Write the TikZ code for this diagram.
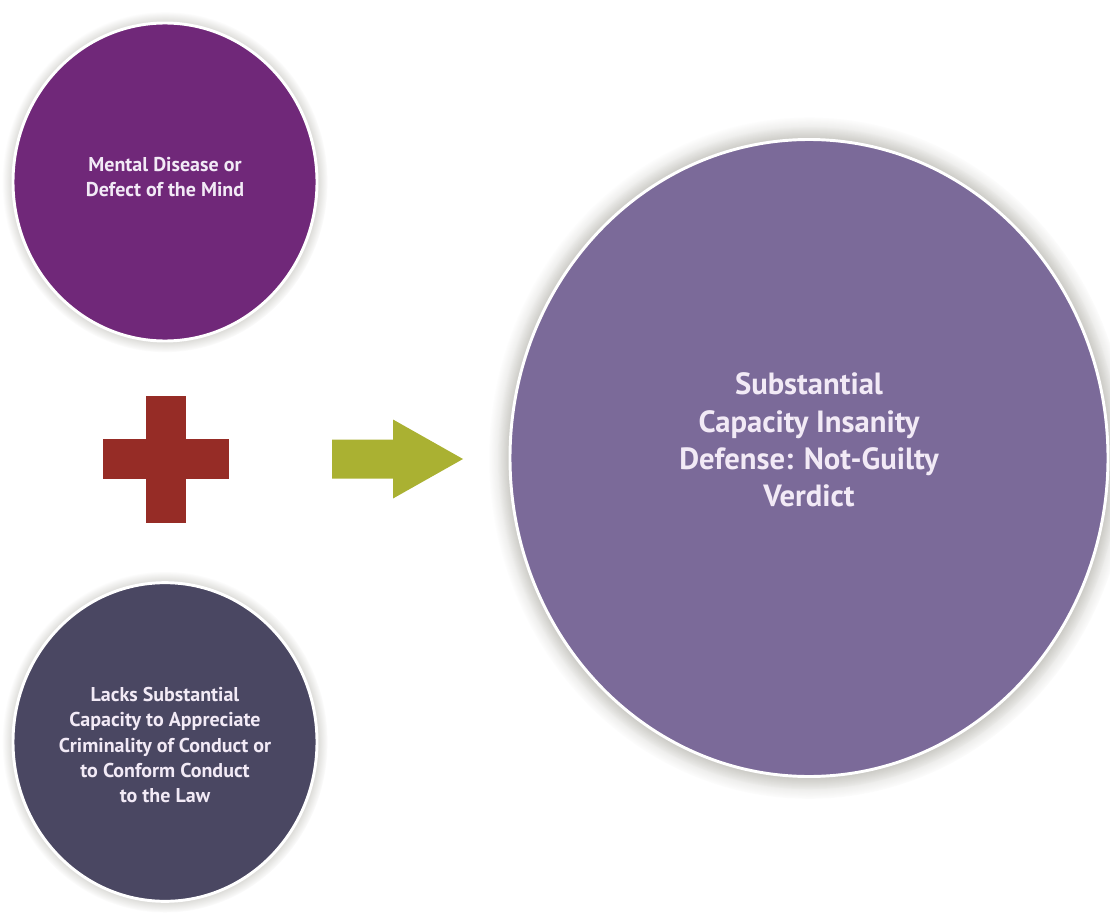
\documentclass[tikz,border=0pt]{standalone}
\usepackage{fontspec}
\setmainfont{PT Sans}
\usetikzlibrary{shapes.geometric, positioning, calc, shadows}
\definecolor{mindpurple}{RGB}{112, 40, 121}
\definecolor{lackslate}{RGB}{74, 71, 98}
\definecolor{verdictviolet}{RGB}{123, 106, 153}
\definecolor{plusred}{RGB}{150, 44, 38}
\definecolor{arrowolive}{RGB}{170, 177, 50}
\definecolor{labeltext}{RGB}{242, 234, 246}
\definecolor{shadowgrey}{RGB}{120, 118, 105}

\begin{document}
\begin{tikzpicture}[
    x=0.75pt, y=-0.75pt,
    % Global styles
    font=\bfseries,
    % Circle styles
    bubble/.style={
        ellipse,
        inner sep=0pt,
        draw=white,
        line width=2.2pt,
        circular drop shadow={shadow xshift=0pt, shadow yshift=0pt,
            shadow scale=1.07, fill=shadowgrey, opacity=0.6}
    },
    bigbubble/.style={
        bubble,
        circular drop shadow={shadow xshift=0pt, shadow yshift=0pt,
            shadow scale=1.04, fill=shadowgrey, opacity=0.6}
    },
    smalltext/.style={
        align=center,
        text=labeltext,
        font=\bfseries\fontsize{15}{19}\selectfont
    },
    bigtext/.style={
        align=center,
        text=labeltext,
        font=\bfseries\fontsize{23}{28}\selectfont
    }
]
\useasboundingbox (0,0) rectangle (1110,913);

% --- Nodes ---

% Conditions
\node (mind) [bubble, fill=mindpurple, minimum width=228pt, minimum height=238.5pt] at (165,182) {};
\node (lacks) [bubble, fill=lackslate, minimum width=228pt, minimum height=239pt] at (165,742) {};

% Result
\node (verdict) [bigbubble, fill=verdictviolet, minimum width=448.5pt, minimum height=477.75pt] at (809,458) {};

% Texts
\node (mind_txt) [smalltext] at ($(mind.center)+(0,-5)$) {Mental Disease or\\Defect of the Mind};
\node (lacks_txt) [smalltext] at ($(lacks.center)+(0,3)$) {Lacks Substantial\\Capacity to Appreciate\\Criminality of Conduct or\\to Conform Conduct\\to the Law};
\node (verdict_txt) [bigtext] at ($(verdict.center)+(0,-18)$) {Substantial\\Capacity Insanity\\Defense: Not-Guilty\\Verdict};

% Plus sign
\coordinate (plus) at (166,459);
\fill [plusred] ($(plus)+(-63,-20)$) rectangle ($(plus)+(63,20)$);
\fill [plusred] ($(plus)+(-20,-63.5)$) rectangle ($(plus)+(20,63.5)$);

% Arrow to the verdict
\coordinate (leadsto) at (332,459);
\fill [arrowolive] (leadsto) ++(0,-19.5) -- ++(61,0) -- ++(0,-20) -- ++(70,39.5)
    -- ++(-70,39.5) -- ++(0,-20) -- ++(-61,0) -- cycle;

\end{tikzpicture}
\end{document}
